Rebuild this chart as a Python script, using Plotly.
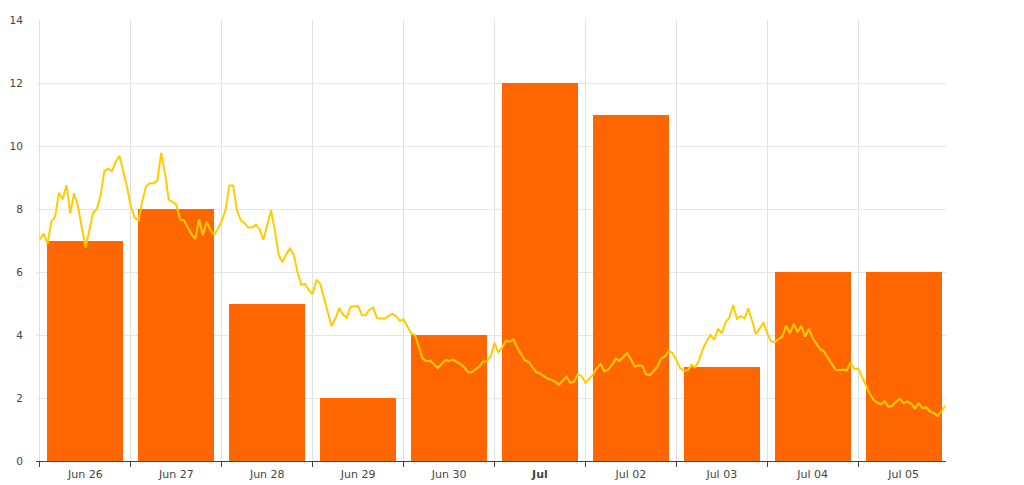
import pandas as pd
import plotly.graph_objects as go

# Daily bars
days = ["2019-06-26", "2019-06-27", "2019-06-28", "2019-06-29", "2019-06-30",
        "2019-07-01", "2019-07-02", "2019-07-03", "2019-07-04", "2019-07-05"]
day_labels = ["Jun 26", "Jun 27", "Jun 28", "Jun 29", "Jun 30",
              "<b>Jul</b>", "Jul 02", "Jul 03", "Jul 04", "Jul 05"]
bar_values = [7, 8, 5, 2, 4, 12, 11, 3, 6, 6]

# Hourly line values (Jun 26 00:00 onward)
line_values = [
    7.03, 7.22, 6.9, 7.6, 7.75, 8.52, 8.3, 8.76, 7.86, 8.5, 8.1, 7.44, 6.78, 7.3, 7.87, 8.0, 8.44, 9.2, 9.28, 9.2, 9.5, 9.68, 9.23, 8.7,
    8.07, 7.72, 7.64, 8.25, 8.72, 8.82, 8.82, 8.91, 9.78, 9.13, 8.3, 8.23, 8.13, 7.66, 7.64, 7.43, 7.2, 7.05, 7.67, 7.17, 7.6, 7.33, 7.18, 7.38,
    7.62, 7.98, 8.75, 8.75, 7.95, 7.65, 7.55, 7.41, 7.41, 7.5, 7.35, 7.02, 7.48, 7.96, 7.32, 6.55, 6.31, 6.56, 6.75, 6.55, 6.0, 5.59, 5.62, 5.42,
    5.3, 5.76, 5.62, 5.18, 4.75, 4.28, 4.53, 4.85, 4.65, 4.55, 4.9, 4.92, 4.92, 4.63, 4.63, 4.81, 4.87, 4.53, 4.52, 4.52, 4.6, 4.67, 4.6, 4.45,
    4.5, 4.26, 4.05, 4.0, 3.65, 3.26, 3.17, 3.18, 3.08, 2.95, 3.08, 3.2, 3.18, 3.22, 3.15, 3.08, 2.98, 2.82, 2.82, 2.9, 3.0, 3.15, 3.17, 3.32,
    3.75, 3.45, 3.6, 3.82, 3.79, 3.86, 3.6, 3.4, 3.2, 3.15, 3.0, 2.82, 2.78, 2.7, 2.62, 2.58, 2.52, 2.42, 2.55, 2.68, 2.48, 2.52, 2.75, 2.7,
    2.48, 2.62, 2.74, 2.95, 3.08, 2.85, 2.9, 3.05, 3.25, 3.18, 3.3, 3.42, 3.23, 3.0, 3.04, 3.02, 2.75, 2.73, 2.85, 3.0, 3.25, 3.32, 3.5, 3.42,
    3.2, 2.95, 2.87, 2.88, 3.05, 2.97, 3.2, 3.55, 3.8, 4.0, 3.85, 4.2, 4.05, 4.4, 4.55, 4.95, 4.52, 4.6, 4.53, 4.85, 4.45, 4.03, 4.2, 4.4,
    4.05, 3.8, 3.78, 3.88, 3.96, 4.3, 4.05, 4.35, 4.1, 4.28, 3.95, 4.2, 3.9, 3.72, 3.55, 3.47, 3.28, 3.1, 2.9, 2.88, 2.9, 2.88, 3.12, 2.92,
    2.94, 2.68, 2.4, 2.15, 1.95, 1.85, 1.8, 1.9, 1.72, 1.75, 1.88, 1.98, 1.83, 1.89, 1.82, 1.68, 1.83, 1.68, 1.7, 1.57, 1.52, 1.43, 1.58, 1.75,
]

day_start = pd.to_datetime(days)
bar_x = day_start + pd.Timedelta(hours=12)
line_x = pd.date_range(days[0], periods=len(line_values), freq="h")
midnights = list(day_start)

fig = go.Figure()
fig.add_trace(go.Bar(
    x=bar_x, y=bar_values,
    width=0.836 * 86400000,
    marker=dict(color="#FF6600", line=dict(width=0)),
    showlegend=False,
))
fig.add_trace(go.Scatter(
    x=line_x, y=line_values, mode="lines",
    line=dict(color="#FFCC00", width=2),
    showlegend=False,
))

fig.update_layout(
    width=1024, height=485,
    margin=dict(l=36, r=78, t=20, b=24, autoexpand=False),
    paper_bgcolor="white", plot_bgcolor="white",
    font=dict(family="DejaVu Sans", size=10, color="#444444"),
    bargap=0,
)
fig.update_xaxes(
    range=["2019-06-25 22:57", "2019-07-05 23:12"],
    tickvals=list(bar_x), ticktext=day_labels,
    ticks="outside", ticklen=3, tickcolor="rgba(0,0,0,0)",
    showgrid=False, zeroline=False,
    showline=True, linecolor="#444444", linewidth=1,
    tickfont=dict(size=11, color="#444444"),
    minor=dict(tickvals=midnights, showgrid=True, gridcolor="#e0e0e0", gridwidth=1,
               ticks="outside", ticklen=5, tickcolor="#444444"),
    automargin=False,
)
fig.update_yaxes(
    range=[0, 14], tickvals=[0, 2, 4, 6, 8, 10, 12, 14],
    showgrid=True, gridcolor="#e6e6e6", gridwidth=1,
    zeroline=False, showline=False,
    ticks="outside", ticklen=10, tickcolor="rgba(0,0,0,0)",
    tickfont=dict(size=10.5, color="#444444"),
    automargin=False,
)

fig.write_html(
    "out.html",
    config={"displayModeBar": False},
    post_script="document.body.style.margin='0';document.body.style.overflow='hidden';",
)
